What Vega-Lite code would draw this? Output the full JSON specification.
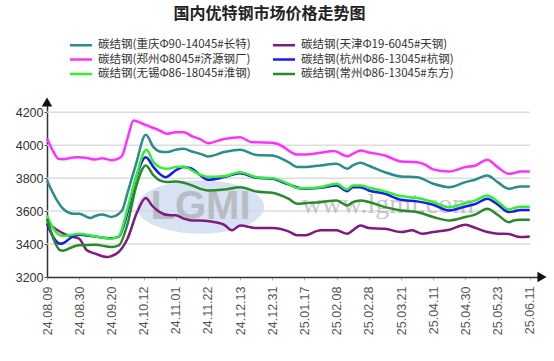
{
  "$schema": "https://vega.github.io/schema/vega-lite/v6.json",
  "width": 495,
  "height": 175,
  "autosize": {"type": "none"},
  "padding": {"left": 47, "top": 102, "right": 12, "bottom": 84},
  "background": "white",
  "title": {
    "text": "国内优特钢市场价格走势图",
    "font": "Noto Sans CJK SC",
    "fontSize": 16,
    "fontWeight": "bold",
    "color": "#222222",
    "anchor": "middle",
    "frame": "group",
    "offset": 16,
    "dx": -25
  },
  "config": {
    "view": {"stroke": null},
    "axis": {"labelFont": "Liberation Sans", "domainColor": "#333333", "domainWidth": 1.5, "labelOverlap": false, "labelBound": false, "labelFlush": false, "grid": false}
  },
  "datasets": {
    "prices": [
      {"s": "碳结钢(重庆Φ90-14045#长特)", "t": 0, "v": 3786},
      {"s": "碳结钢(重庆Φ90-14045#长特)", "t": 0.31, "v": 3665},
      {"s": "碳结钢(重庆Φ90-14045#长特)", "t": 0.5, "v": 3614},
      {"s": "碳结钢(重庆Φ90-14045#长特)", "t": 0.83, "v": 3584},
      {"s": "碳结钢(重庆Φ90-14045#长特)", "t": 1, "v": 3584},
      {"s": "碳结钢(重庆Φ90-14045#长特)", "t": 1.35, "v": 3558},
      {"s": "碳结钢(重庆Φ90-14045#长特)", "t": 1.5, "v": 3570},
      {"s": "碳结钢(重庆Φ90-14045#长特)", "t": 1.71, "v": 3580},
      {"s": "碳结钢(重庆Φ90-14045#长特)", "t": 2, "v": 3564},
      {"s": "碳结钢(重庆Φ90-14045#长特)", "t": 2.23, "v": 3584},
      {"s": "碳结钢(重庆Φ90-14045#长特)", "t": 2.35, "v": 3610},
      {"s": "碳结钢(重庆Φ90-14045#长特)", "t": 2.5, "v": 3709},
      {"s": "碳结钢(重庆Φ90-14045#长特)", "t": 2.75, "v": 3874},
      {"s": "碳结钢(重庆Φ90-14045#长特)", "t": 3.07, "v": 4063},
      {"s": "碳结钢(重庆Φ90-14045#长特)", "t": 3.31, "v": 3988},
      {"s": "碳结钢(重庆Φ90-14045#长特)", "t": 3.5, "v": 3962},
      {"s": "碳结钢(重庆Φ90-14045#长特)", "t": 3.73, "v": 3958},
      {"s": "碳结钢(重庆Φ90-14045#长特)", "t": 4, "v": 3972},
      {"s": "碳结钢(重庆Φ90-14045#长特)", "t": 4.25, "v": 3978},
      {"s": "碳结钢(重庆Φ90-14045#长特)", "t": 4.5, "v": 3962},
      {"s": "碳结钢(重庆Φ90-14045#长特)", "t": 4.77, "v": 3947},
      {"s": "碳结钢(重庆Φ90-14045#长特)", "t": 5, "v": 3932},
      {"s": "碳结钢(重庆Φ90-14045#长特)", "t": 5.5, "v": 3958},
      {"s": "碳结钢(重庆Φ90-14045#长特)", "t": 6, "v": 3972},
      {"s": "碳结钢(重庆Φ90-14045#长特)", "t": 6.5, "v": 3941},
      {"s": "碳结钢(重庆Φ90-14045#长特)", "t": 7, "v": 3937},
      {"s": "碳结钢(重庆Φ90-14045#长特)", "t": 7.5, "v": 3897},
      {"s": "碳结钢(重庆Φ90-14045#长特)", "t": 7.78, "v": 3867},
      {"s": "碳结钢(重庆Φ90-14045#长特)", "t": 8, "v": 3867},
      {"s": "碳结钢(重庆Φ90-14045#长特)", "t": 8.5, "v": 3877},
      {"s": "碳结钢(重庆Φ90-14045#长特)", "t": 9, "v": 3887},
      {"s": "碳结钢(重庆Φ90-14045#长特)", "t": 9.33, "v": 3857},
      {"s": "碳结钢(重庆Φ90-14045#长特)", "t": 9.5, "v": 3877},
      {"s": "碳结钢(重庆Φ90-14045#长特)", "t": 9.74, "v": 3893},
      {"s": "碳结钢(重庆Φ90-14045#长特)", "t": 10, "v": 3875},
      {"s": "碳结钢(重庆Φ90-14045#长特)", "t": 10.5, "v": 3836},
      {"s": "碳结钢(重庆Φ90-14045#长特)", "t": 11, "v": 3810},
      {"s": "碳结钢(重庆Φ90-14045#长特)", "t": 11.5, "v": 3806},
      {"s": "碳结钢(重庆Φ90-14045#长特)", "t": 12, "v": 3766},
      {"s": "碳结钢(重庆Φ90-14045#长特)", "t": 12.5, "v": 3745},
      {"s": "碳结钢(重庆Φ90-14045#长特)", "t": 13, "v": 3776},
      {"s": "碳结钢(重庆Φ90-14045#长特)", "t": 13.32, "v": 3792},
      {"s": "碳结钢(重庆Φ90-14045#长特)", "t": 13.68, "v": 3816},
      {"s": "碳结钢(重庆Φ90-14045#长特)", "t": 14, "v": 3776},
      {"s": "碳结钢(重庆Φ90-14045#长特)", "t": 14.35, "v": 3735},
      {"s": "碳结钢(重庆Φ90-14045#长特)", "t": 14.5, "v": 3741},
      {"s": "碳结钢(重庆Φ90-14045#长特)", "t": 14.7, "v": 3749},
      {"s": "碳结钢(重庆Φ90-14045#长特)", "t": 15, "v": 3749},

      {"s": "碳结钢(天津Φ19-6045#天钢)", "t": 0, "v": 3530},
      {"s": "碳结钢(天津Φ19-6045#天钢)", "t": 0.5, "v": 3465},
      {"s": "碳结钢(天津Φ19-6045#天钢)", "t": 0.83, "v": 3442},
      {"s": "碳结钢(天津Φ19-6045#天钢)", "t": 1, "v": 3432},
      {"s": "碳结钢(天津Φ19-6045#天钢)", "t": 1.24, "v": 3362},
      {"s": "碳结钢(天津Φ19-6045#天钢)", "t": 1.5, "v": 3342},
      {"s": "碳结钢(天津Φ19-6045#天钢)", "t": 1.86, "v": 3321},
      {"s": "碳结钢(天津Φ19-6045#天钢)", "t": 2, "v": 3327},
      {"s": "碳结钢(天津Φ19-6045#天钢)", "t": 2.23, "v": 3352},
      {"s": "碳结钢(天津Φ19-6045#天钢)", "t": 2.5, "v": 3432},
      {"s": "碳结钢(天津Φ19-6045#天钢)", "t": 2.8, "v": 3594},
      {"s": "碳结钢(天津Φ19-6045#天钢)", "t": 3.07, "v": 3680},
      {"s": "碳结钢(天津Φ19-6045#天钢)", "t": 3.26, "v": 3634},
      {"s": "碳结钢(天津Φ19-6045#天钢)", "t": 3.5, "v": 3594},
      {"s": "碳结钢(天津Φ19-6045#天钢)", "t": 3.83, "v": 3574},
      {"s": "碳结钢(天津Φ19-6045#天钢)", "t": 4, "v": 3574},
      {"s": "碳结钢(天津Φ19-6045#天钢)", "t": 4.25, "v": 3554},
      {"s": "碳结钢(天津Φ19-6045#天钢)", "t": 4.5, "v": 3543},
      {"s": "碳结钢(天津Φ19-6045#天钢)", "t": 4.77, "v": 3543},
      {"s": "碳结钢(天津Φ19-6045#天钢)", "t": 5, "v": 3539},
      {"s": "碳结钢(天津Φ19-6045#天钢)", "t": 5.5, "v": 3517},
      {"s": "碳结钢(天津Φ19-6045#天钢)", "t": 5.75, "v": 3483},
      {"s": "碳结钢(天津Φ19-6045#天钢)", "t": 6, "v": 3513},
      {"s": "碳结钢(天津Φ19-6045#天钢)", "t": 6.5, "v": 3497},
      {"s": "碳结钢(天津Φ19-6045#天钢)", "t": 7, "v": 3497},
      {"s": "碳结钢(天津Φ19-6045#天钢)", "t": 7.5, "v": 3477},
      {"s": "碳结钢(天津Φ19-6045#天钢)", "t": 7.78, "v": 3453},
      {"s": "碳结钢(天津Φ19-6045#天钢)", "t": 8, "v": 3453},
      {"s": "碳结钢(天津Φ19-6045#天钢)", "t": 8.5, "v": 3483},
      {"s": "碳结钢(天津Φ19-6045#天钢)", "t": 9, "v": 3483},
      {"s": "碳结钢(天津Φ19-6045#天钢)", "t": 9.33, "v": 3463},
      {"s": "碳结钢(天津Φ19-6045#天钢)", "t": 9.5, "v": 3483},
      {"s": "碳结钢(天津Φ19-6045#天钢)", "t": 9.74, "v": 3513},
      {"s": "碳结钢(天津Φ19-6045#天钢)", "t": 10, "v": 3497},
      {"s": "碳结钢(天津Φ19-6045#天钢)", "t": 10.5, "v": 3493},
      {"s": "碳结钢(天津Φ19-6045#天钢)", "t": 11, "v": 3473},
      {"s": "碳结钢(天津Φ19-6045#天钢)", "t": 11.35, "v": 3483},
      {"s": "碳结钢(天津Φ19-6045#天钢)", "t": 11.66, "v": 3463},
      {"s": "碳结钢(天津Φ19-6045#天钢)", "t": 12, "v": 3473},
      {"s": "碳结钢(天津Φ19-6045#天钢)", "t": 12.5, "v": 3487},
      {"s": "碳结钢(天津Φ19-6045#天钢)", "t": 13, "v": 3517},
      {"s": "碳结钢(天津Φ19-6045#天钢)", "t": 13.32, "v": 3497},
      {"s": "碳结钢(天津Φ19-6045#天钢)", "t": 13.68, "v": 3473},
      {"s": "碳结钢(天津Φ19-6045#天钢)", "t": 14, "v": 3463},
      {"s": "碳结钢(天津Φ19-6045#天钢)", "t": 14.35, "v": 3461},
      {"s": "碳结钢(天津Φ19-6045#天钢)", "t": 14.7, "v": 3442},
      {"s": "碳结钢(天津Φ19-6045#天钢)", "t": 15, "v": 3446},

      {"s": "碳结钢(郑州Φ8045#济源钢厂)", "t": 0, "v": 4040},
      {"s": "碳结钢(郑州Φ8045#济源钢厂)", "t": 0.2, "v": 3960},
      {"s": "碳结钢(郑州Φ8045#济源钢厂)", "t": 0.36, "v": 3917},
      {"s": "碳结钢(郑州Φ8045#济源钢厂)", "t": 0.5, "v": 3915},
      {"s": "碳结钢(郑州Φ8045#济源钢厂)", "t": 0.83, "v": 3925},
      {"s": "碳结钢(郑州Φ8045#济源钢厂)", "t": 1, "v": 3927},
      {"s": "碳结钢(郑州Φ8045#济源钢厂)", "t": 1.24, "v": 3922},
      {"s": "碳结钢(郑州Φ8045#济源钢厂)", "t": 1.5, "v": 3913},
      {"s": "碳结钢(郑州Φ8045#济源钢厂)", "t": 1.71, "v": 3921},
      {"s": "碳结钢(郑州Φ8045#济源钢厂)", "t": 2, "v": 3909},
      {"s": "碳结钢(郑州Φ8045#济源钢厂)", "t": 2.23, "v": 3920},
      {"s": "碳结钢(郑州Φ8045#济源钢厂)", "t": 2.33, "v": 3935},
      {"s": "碳结钢(郑州Φ8045#济源钢厂)", "t": 2.5, "v": 4040},
      {"s": "碳结钢(郑州Φ8045#济源钢厂)", "t": 2.69, "v": 4150},
      {"s": "碳结钢(郑州Φ8045#济源钢厂)", "t": 2.97, "v": 4130},
      {"s": "碳结钢(郑州Φ8045#济源钢厂)", "t": 3.5, "v": 4089},
      {"s": "碳结钢(郑州Φ8045#济源钢厂)", "t": 3.73, "v": 4069},
      {"s": "碳结钢(郑州Φ8045#济源钢厂)", "t": 4, "v": 4079},
      {"s": "碳结钢(郑州Φ8045#济源钢厂)", "t": 4.25, "v": 4079},
      {"s": "碳结钢(郑州Φ8045#济源钢厂)", "t": 4.5, "v": 4055},
      {"s": "碳结钢(郑州Φ8045#济源钢厂)", "t": 4.77, "v": 4035},
      {"s": "碳结钢(郑州Φ8045#济源钢厂)", "t": 5, "v": 4012},
      {"s": "碳结钢(郑州Φ8045#济源钢厂)", "t": 5.5, "v": 4038},
      {"s": "碳结钢(郑州Φ8045#济源钢厂)", "t": 6, "v": 4048},
      {"s": "碳结钢(郑州Φ8045#济源钢厂)", "t": 6.37, "v": 4018},
      {"s": "碳结钢(郑州Φ8045#济源钢厂)", "t": 6.5, "v": 4018},
      {"s": "碳结钢(郑州Φ8045#济源钢厂)", "t": 7, "v": 4014},
      {"s": "碳结钢(郑州Φ8045#济源钢厂)", "t": 7.36, "v": 3988},
      {"s": "碳结钢(郑州Φ8045#济源钢厂)", "t": 7.5, "v": 3968},
      {"s": "碳结钢(郑州Φ8045#济源钢厂)", "t": 7.78, "v": 3943},
      {"s": "碳结钢(郑州Φ8045#济源钢厂)", "t": 8, "v": 3943},
      {"s": "碳结钢(郑州Φ8045#济源钢厂)", "t": 8.5, "v": 3954},
      {"s": "碳结钢(郑州Φ8045#济源钢厂)", "t": 8.91, "v": 3964},
      {"s": "碳结钢(郑州Φ8045#济源钢厂)", "t": 9.33, "v": 3933},
      {"s": "碳结钢(郑州Φ8045#济源钢厂)", "t": 9.5, "v": 3947},
      {"s": "碳结钢(郑州Φ8045#济源钢厂)", "t": 9.74, "v": 3968},
      {"s": "碳结钢(郑州Φ8045#济源钢厂)", "t": 10, "v": 3956},
      {"s": "碳结钢(郑州Φ8045#济源钢厂)", "t": 10.5, "v": 3937},
      {"s": "碳结钢(郑州Φ8045#济源钢厂)", "t": 11, "v": 3901},
      {"s": "碳结钢(郑州Φ8045#济源钢厂)", "t": 11.5, "v": 3897},
      {"s": "碳结钢(郑州Φ8045#济源钢厂)", "t": 11.76, "v": 3881},
      {"s": "碳结钢(郑州Φ8045#济源钢厂)", "t": 12, "v": 3853},
      {"s": "碳结钢(郑州Φ8045#济源钢厂)", "t": 12.5, "v": 3840},
      {"s": "碳结钢(郑州Φ8045#济源钢厂)", "t": 13, "v": 3867},
      {"s": "碳结钢(郑州Φ8045#济源钢厂)", "t": 13.32, "v": 3877},
      {"s": "碳结钢(郑州Φ8045#济源钢厂)", "t": 13.5, "v": 3897},
      {"s": "碳结钢(郑州Φ8045#济源钢厂)", "t": 13.68, "v": 3911},
      {"s": "碳结钢(郑州Φ8045#济源钢厂)", "t": 14, "v": 3867},
      {"s": "碳结钢(郑州Φ8045#济源钢厂)", "t": 14.35, "v": 3826},
      {"s": "碳结钢(郑州Φ8045#济源钢厂)", "t": 14.5, "v": 3830},
      {"s": "碳结钢(郑州Φ8045#济源钢厂)", "t": 14.7, "v": 3840},
      {"s": "碳结钢(郑州Φ8045#济源钢厂)", "t": 15, "v": 3840},

      {"s": "碳结钢(杭州Φ86-13045#杭钢)", "t": 0, "v": 3523},
      {"s": "碳结钢(杭州Φ86-13045#杭钢)", "t": 0.2, "v": 3440},
      {"s": "碳结钢(杭州Φ86-13045#杭钢)", "t": 0.41, "v": 3402},
      {"s": "碳结钢(杭州Φ86-13045#杭钢)", "t": 0.5, "v": 3405},
      {"s": "碳结钢(杭州Φ86-13045#杭钢)", "t": 0.83, "v": 3450},
      {"s": "碳结钢(杭州Φ86-13045#杭钢)", "t": 1, "v": 3457},
      {"s": "碳结钢(杭州Φ86-13045#杭钢)", "t": 1.5, "v": 3445},
      {"s": "碳结钢(杭州Φ86-13045#杭钢)", "t": 2, "v": 3435},
      {"s": "碳结钢(杭州Φ86-13045#杭钢)", "t": 2.23, "v": 3445},
      {"s": "碳结钢(杭州Φ86-13045#杭钢)", "t": 2.5, "v": 3590},
      {"s": "碳结钢(杭州Φ86-13045#杭钢)", "t": 2.75, "v": 3790},
      {"s": "碳结钢(杭州Φ86-13045#杭钢)", "t": 3.07, "v": 3927},
      {"s": "碳结钢(杭州Φ86-13045#杭钢)", "t": 3.31, "v": 3867},
      {"s": "碳结钢(杭州Φ86-13045#杭钢)", "t": 3.5, "v": 3826},
      {"s": "碳结钢(杭州Φ86-13045#杭钢)", "t": 3.68, "v": 3806},
      {"s": "碳结钢(杭州Φ86-13045#杭钢)", "t": 4, "v": 3847},
      {"s": "碳结钢(杭州Φ86-13045#杭钢)", "t": 4.25, "v": 3867},
      {"s": "碳结钢(杭州Φ86-13045#杭钢)", "t": 4.5, "v": 3857},
      {"s": "碳结钢(杭州Φ86-13045#杭钢)", "t": 4.77, "v": 3816},
      {"s": "碳结钢(杭州Φ86-13045#杭钢)", "t": 5, "v": 3790},
      {"s": "碳结钢(杭州Φ86-13045#杭钢)", "t": 5.5, "v": 3806},
      {"s": "碳结钢(杭州Φ86-13045#杭钢)", "t": 6, "v": 3830},
      {"s": "碳结钢(杭州Φ86-13045#杭钢)", "t": 6.5, "v": 3802},
      {"s": "碳结钢(杭州Φ86-13045#杭钢)", "t": 7, "v": 3796},
      {"s": "碳结钢(杭州Φ86-13045#杭钢)", "t": 7.5, "v": 3762},
      {"s": "碳结钢(杭州Φ86-13045#杭钢)", "t": 8, "v": 3735},
      {"s": "碳结钢(杭州Φ86-13045#杭钢)", "t": 8.5, "v": 3741},
      {"s": "碳结钢(杭州Φ86-13045#杭钢)", "t": 9, "v": 3756},
      {"s": "碳结钢(杭州Φ86-13045#杭钢)", "t": 9.33, "v": 3721},
      {"s": "碳结钢(杭州Φ86-13045#杭钢)", "t": 9.5, "v": 3745},
      {"s": "碳结钢(杭州Φ86-13045#杭钢)", "t": 9.74, "v": 3745},
      {"s": "碳结钢(杭州Φ86-13045#杭钢)", "t": 10, "v": 3725},
      {"s": "碳结钢(杭州Φ86-13045#杭钢)", "t": 10.5, "v": 3705},
      {"s": "碳结钢(杭州Φ86-13045#杭钢)", "t": 11, "v": 3669},
      {"s": "碳结钢(杭州Φ86-13045#杭钢)", "t": 11.5, "v": 3659},
      {"s": "碳结钢(杭州Φ86-13045#杭钢)", "t": 12, "v": 3638},
      {"s": "碳结钢(杭州Φ86-13045#杭钢)", "t": 12.5, "v": 3604},
      {"s": "碳结钢(杭州Φ86-13045#杭钢)", "t": 13, "v": 3628},
      {"s": "碳结钢(杭州Φ86-13045#杭钢)", "t": 13.32, "v": 3644},
      {"s": "碳结钢(杭州Φ86-13045#杭钢)", "t": 13.68, "v": 3675},
      {"s": "碳结钢(杭州Φ86-13045#杭钢)", "t": 14, "v": 3640},
      {"s": "碳结钢(杭州Φ86-13045#杭钢)", "t": 14.35, "v": 3594},
      {"s": "碳结钢(杭州Φ86-13045#杭钢)", "t": 14.5, "v": 3598},
      {"s": "碳结钢(杭州Φ86-13045#杭钢)", "t": 14.7, "v": 3606},
      {"s": "碳结钢(杭州Φ86-13045#杭钢)", "t": 15, "v": 3606},

      {"s": "碳结钢(无锡Φ86-18045#淮钢)", "t": 0, "v": 3574},
      {"s": "碳结钢(无锡Φ86-18045#淮钢)", "t": 0.2, "v": 3493},
      {"s": "碳结钢(无锡Φ86-18045#淮钢)", "t": 0.5, "v": 3449},
      {"s": "碳结钢(无锡Φ86-18045#淮钢)", "t": 0.83, "v": 3458},
      {"s": "碳结钢(无锡Φ86-18045#淮钢)", "t": 1, "v": 3463},
      {"s": "碳结钢(无锡Φ86-18045#淮钢)", "t": 1.5, "v": 3447},
      {"s": "碳结钢(无锡Φ86-18045#淮钢)", "t": 2, "v": 3432},
      {"s": "碳结钢(无锡Φ86-18045#淮钢)", "t": 2.23, "v": 3447},
      {"s": "碳结钢(无锡Φ86-18045#淮钢)", "t": 2.5, "v": 3614},
      {"s": "碳结钢(无锡Φ86-18045#淮钢)", "t": 2.75, "v": 3796},
      {"s": "碳结钢(无锡Φ86-18045#淮钢)", "t": 3.09, "v": 3972},
      {"s": "碳结钢(无锡Φ86-18045#淮钢)", "t": 3.31, "v": 3897},
      {"s": "碳结钢(无锡Φ86-18045#淮钢)", "t": 3.5, "v": 3867},
      {"s": "碳结钢(无锡Φ86-18045#淮钢)", "t": 3.73, "v": 3857},
      {"s": "碳结钢(无锡Φ86-18045#淮钢)", "t": 4, "v": 3867},
      {"s": "碳结钢(无锡Φ86-18045#淮钢)", "t": 4.25, "v": 3871},
      {"s": "碳结钢(无锡Φ86-18045#淮钢)", "t": 4.5, "v": 3847},
      {"s": "碳结钢(无锡Φ86-18045#淮钢)", "t": 4.77, "v": 3820},
      {"s": "碳结钢(无锡Φ86-18045#淮钢)", "t": 5, "v": 3808},
      {"s": "碳结钢(无锡Φ86-18045#淮钢)", "t": 5.5, "v": 3812},
      {"s": "碳结钢(无锡Φ86-18045#淮钢)", "t": 6, "v": 3836},
      {"s": "碳结钢(无锡Φ86-18045#淮钢)", "t": 6.5, "v": 3806},
      {"s": "碳结钢(无锡Φ86-18045#淮钢)", "t": 7, "v": 3800},
      {"s": "碳结钢(无锡Φ86-18045#淮钢)", "t": 7.5, "v": 3766},
      {"s": "碳结钢(无锡Φ86-18045#淮钢)", "t": 7.78, "v": 3739},
      {"s": "碳结钢(无锡Φ86-18045#淮钢)", "t": 8, "v": 3739},
      {"s": "碳结钢(无锡Φ86-18045#淮钢)", "t": 8.5, "v": 3745},
      {"s": "碳结钢(无锡Φ86-18045#淮钢)", "t": 9, "v": 3766},
      {"s": "碳结钢(无锡Φ86-18045#淮钢)", "t": 9.33, "v": 3731},
      {"s": "碳结钢(无锡Φ86-18045#淮钢)", "t": 9.5, "v": 3756},
      {"s": "碳结钢(无锡Φ86-18045#淮钢)", "t": 9.74, "v": 3756},
      {"s": "碳结钢(无锡Φ86-18045#淮钢)", "t": 10, "v": 3742},
      {"s": "碳结钢(无锡Φ86-18045#淮钢)", "t": 10.5, "v": 3719},
      {"s": "碳结钢(无锡Φ86-18045#淮钢)", "t": 11, "v": 3691},
      {"s": "碳结钢(无锡Φ86-18045#淮钢)", "t": 11.5, "v": 3679},
      {"s": "碳结钢(无锡Φ86-18045#淮钢)", "t": 12, "v": 3654},
      {"s": "碳结钢(无锡Φ86-18045#淮钢)", "t": 12.5, "v": 3624},
      {"s": "碳结钢(无锡Φ86-18045#淮钢)", "t": 13, "v": 3648},
      {"s": "碳结钢(无锡Φ86-18045#淮钢)", "t": 13.32, "v": 3665},
      {"s": "碳结钢(无锡Φ86-18045#淮钢)", "t": 13.68, "v": 3695},
      {"s": "碳结钢(无锡Φ86-18045#淮钢)", "t": 14, "v": 3659},
      {"s": "碳结钢(无锡Φ86-18045#淮钢)", "t": 14.35, "v": 3610},
      {"s": "碳结钢(无锡Φ86-18045#淮钢)", "t": 14.5, "v": 3618},
      {"s": "碳结钢(无锡Φ86-18045#淮钢)", "t": 14.7, "v": 3626},
      {"s": "碳结钢(无锡Φ86-18045#淮钢)", "t": 15, "v": 3626},

      {"s": "碳结钢(常州Φ86-13045#东方)", "t": 0, "v": 3554},
      {"s": "碳结钢(常州Φ86-13045#东方)", "t": 0.2, "v": 3432},
      {"s": "碳结钢(常州Φ86-13045#东方)", "t": 0.41, "v": 3362},
      {"s": "碳结钢(常州Φ86-13045#东方)", "t": 0.5, "v": 3360},
      {"s": "碳结钢(常州Φ86-13045#东方)", "t": 0.83, "v": 3385},
      {"s": "碳结钢(常州Φ86-13045#东方)", "t": 1, "v": 3392},
      {"s": "碳结钢(常州Φ86-13045#东方)", "t": 1.5, "v": 3396},
      {"s": "碳结钢(常州Φ86-13045#东方)", "t": 2, "v": 3382},
      {"s": "碳结钢(常州Φ86-13045#东方)", "t": 2.23, "v": 3392},
      {"s": "碳结钢(常州Φ86-13045#东方)", "t": 2.5, "v": 3520},
      {"s": "碳结钢(常州Φ86-13045#东方)", "t": 2.75, "v": 3735},
      {"s": "碳结钢(常州Φ86-13045#东方)", "t": 3.07, "v": 3877},
      {"s": "碳结钢(常州Φ86-13045#东方)", "t": 3.31, "v": 3816},
      {"s": "碳结钢(常州Φ86-13045#东方)", "t": 3.5, "v": 3786},
      {"s": "碳结钢(常州Φ86-13045#东方)", "t": 3.73, "v": 3776},
      {"s": "碳结钢(常州Φ86-13045#东方)", "t": 4, "v": 3780},
      {"s": "碳结钢(常州Φ86-13045#东方)", "t": 4.25, "v": 3772},
      {"s": "碳结钢(常州Φ86-13045#东方)", "t": 4.5, "v": 3756},
      {"s": "碳结钢(常州Φ86-13045#东方)", "t": 4.77, "v": 3735},
      {"s": "碳结钢(常州Φ86-13045#东方)", "t": 5, "v": 3725},
      {"s": "碳结钢(常州Φ86-13045#东方)", "t": 5.5, "v": 3731},
      {"s": "碳结钢(常州Φ86-13045#东方)", "t": 6, "v": 3745},
      {"s": "碳结钢(常州Φ86-13045#东方)", "t": 6.5, "v": 3719},
      {"s": "碳结钢(常州Φ86-13045#东方)", "t": 7, "v": 3711},
      {"s": "碳结钢(常州Φ86-13045#东方)", "t": 7.5, "v": 3675},
      {"s": "碳结钢(常州Φ86-13045#东方)", "t": 7.78, "v": 3645},
      {"s": "碳结钢(常州Φ86-13045#东方)", "t": 8, "v": 3648},
      {"s": "碳结钢(常州Φ86-13045#东方)", "t": 8.5, "v": 3654},
      {"s": "碳结钢(常州Φ86-13045#东方)", "t": 9, "v": 3665},
      {"s": "碳结钢(常州Φ86-13045#东方)", "t": 9.33, "v": 3634},
      {"s": "碳结钢(常州Φ86-13045#东方)", "t": 9.5, "v": 3654},
      {"s": "碳结钢(常州Φ86-13045#东方)", "t": 9.74, "v": 3665},
      {"s": "碳结钢(常州Φ86-13045#东方)", "t": 10, "v": 3655},
      {"s": "碳结钢(常州Φ86-13045#东方)", "t": 10.5, "v": 3624},
      {"s": "碳结钢(常州Φ86-13045#东方)", "t": 11, "v": 3604},
      {"s": "碳结钢(常州Φ86-13045#东方)", "t": 11.5, "v": 3594},
      {"s": "碳结钢(常州Φ86-13045#东方)", "t": 12, "v": 3564},
      {"s": "碳结钢(常州Φ86-13045#东方)", "t": 12.5, "v": 3543},
      {"s": "碳结钢(常州Φ86-13045#东方)", "t": 13, "v": 3564},
      {"s": "碳结钢(常州Φ86-13045#东方)", "t": 13.32, "v": 3580},
      {"s": "碳结钢(常州Φ86-13045#东方)", "t": 13.68, "v": 3614},
      {"s": "碳结钢(常州Φ86-13045#东方)", "t": 14, "v": 3578},
      {"s": "碳结钢(常州Φ86-13045#东方)", "t": 14.35, "v": 3533},
      {"s": "碳结钢(常州Φ86-13045#东方)", "t": 14.5, "v": 3543},
      {"s": "碳结钢(常州Φ86-13045#东方)", "t": 14.7, "v": 3547},
      {"s": "碳结钢(常州Φ86-13045#东方)", "t": 15, "v": 3547}
    ],
    "grid": [
      {"t": 0, "t2": 15, "v": 3400},
      {"t": 0, "t2": 15, "v": 3600},
      {"t": 0, "t2": 15, "v": 3800},
      {"t": 0, "t2": 15, "v": 4000},
      {"t": 0, "t2": 15, "v": 4200}
    ],
    "arrows": [
      {"t": 0, "v": 4262, "shape": "triangle-up"},
      {"t": 15.38, "v": 3200, "shape": "triangle-right"}
    ],
    "logo": [{"t": 4.77, "v": 3625, "label": "LGMI"}],
    "site": [{"t": 10.59, "v": 3635, "label": "www.lgmi.com"}]
  },
  "encoding": {
    "x": {
      "field": "t", "type": "quantitative",
      "scale": {"domain": [0, 15.38], "nice": false, "zero": false},
      "axis": {
        "values": [0, 1, 2, 3, 4, 5, 6, 7, 8, 9, 10, 11, 12, 13, 14, 15],
        "labelExpr": "['24.08.09','24.08.30','24.09.20','24.10.12','24.11.01','24.11.22','24.12.13','24.12.31','25.01.17','25.02.08','25.02.28','25.03.21','25.04.11','25.04.30','25.05.23','25.06.11'][datum.value]",
        "labelAngle": 270, "labelAlign": "right", "labelBaseline": "middle",
        "labelFontSize": 12.5, "labelColor": "#555555", "labelPadding": 6,
        "tickSize": 3, "tickColor": "#bbbbbb", "title": null, "labelOverlap": false
      }
    },
    "y": {
      "field": "v", "type": "quantitative",
      "scale": {"domain": [3200, 4262], "nice": false, "zero": false},
      "axis": {
        "values": [3200, 3400, 3600, 3800, 4000, 4200],
        "format": "d", "labelFontSize": 12.5, "labelColor": "#333333", "labelPadding": 1,
        "tickSize": 3, "tickColor": "#555555", "title": null, "labelOverlap": false
      }
    }
  },
  "layer": [
    {
      "data": {"name": "grid"},
      "mark": {"type": "rule", "color": "#dddddd", "strokeWidth": 1.5},
      "encoding": {
        "x2": {"field": "t2"}
      }
    },
    {
      "data": {"name": "logo"},
      "mark": {"type": "point", "shape": "M -1 0 A 1 0.42 0 1 0 1 0 A 1 0.42 0 1 0 -1 0 Z", "size": 16129, "filled": true, "color": "#c9d8ee", "opacity": 0.75},
      "encoding": {}
    },
    {
      "data": {"name": "logo"},
      "mark": {"type": "text", "font": "Liberation Sans", "fontSize": 40, "fontWeight": "bold", "color": "#a0a0a0", "opacity": 0.55, "baseline": "middle", "align": "center"},
      "encoding": {
        "text": {"field": "label"}
      }
    },
    {
      "data": {"name": "site"},
      "mark": {"type": "text", "font": "Liberation Serif", "fontSize": 28, "color": "#b0b0b0", "opacity": 0.7, "baseline": "middle", "align": "center"},
      "encoding": {
        "text": {"field": "label"}
      }
    },
    {
      "data": {"name": "prices"},
      "mark": {"type": "line", "interpolate": "monotone", "strokeWidth": 2.5},
      "encoding": {
        "color": {
          "field": "s", "type": "nominal",
          "scale": {
            "domain": ["碳结钢(重庆Φ90-14045#长特)", "碳结钢(天津Φ19-6045#天钢)", "碳结钢(郑州Φ8045#济源钢厂)", "碳结钢(杭州Φ86-13045#杭钢)", "碳结钢(无锡Φ86-18045#淮钢)", "碳结钢(常州Φ86-13045#东方)"],
            "range": ["#2b8c8c", "#7f1a80", "#ff33ff", "#1a1aee", "#33ee33", "#2a8a2a"]
          },
          "legend": {
            "orient": "none", "legendX": 27, "legendY": -64,
            "columns": 2, "direction": "horizontal", "title": null,
            "symbolType": "M -2 0 L 2 0", "symbolSize": 121, "symbolStrokeWidth": 2.5,
            "labelFont": "Noto Sans CJK SC", "labelFontSize": 11.5, "labelColor": "#333333",
            "labelOffset": 10, "rowPadding": 1.5, "columnPadding": 17, "labelLimit": 300
          }
        }
      }
    },
    {
      "data": {"name": "arrows"},
      "mark": {"type": "point", "filled": true, "color": "#111111", "size": 110, "opacity": 1},
      "encoding": {
        "shape": {"field": "shape", "type": "nominal", "scale": null}
      }
    }
  ]
}
